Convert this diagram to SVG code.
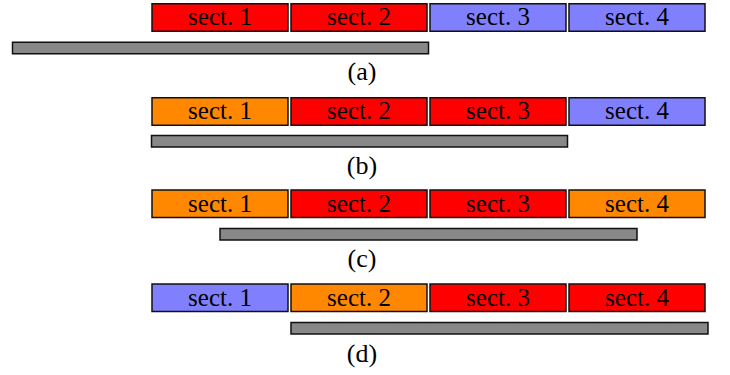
<svg xmlns="http://www.w3.org/2000/svg" width="730" height="375" viewBox="0 0 730 375" font-family="Liberation Serif, Times New Roman, serif">
<style>
.s{stroke:#111;stroke-width:1.5}
.r{fill:#ff0000}
.b{fill:#8080ff}
.o{fill:#ff8800}
.bar{fill:#888888;stroke:#111;stroke-width:1.5}
text{font-size:25px;fill:#000;text-anchor:middle}
.lbl{font-size:26px}
</style>
<rect width="730" height="375" fill="#fff"/>
<g id="row-a">
<g id="a1"><rect class="s r" x="152" y="3.75" width="136" height="27.5"/><text x="220" y="25">sect. 1</text></g>
<g id="a2"><rect class="s r" x="291" y="3.75" width="136" height="27.5"/><text x="359" y="25">sect. 2</text></g>
<g id="a3"><rect class="s b" x="430" y="3.75" width="136" height="27.5"/><text x="498" y="25">sect. 3</text></g>
<g id="a4"><rect class="s b" x="569" y="3.75" width="136" height="27.5"/><text x="637" y="25">sect. 4</text></g>
<g id="a-bar"><rect class="bar" x="12.5" y="42.25" width="416" height="11.5"/></g>
<text id="a-label" class="lbl" x="362" y="80">(a)</text>
</g>
<g id="row-b">
<g id="b1"><rect class="s o" x="152" y="97.75" width="136" height="27.5"/><text x="220" y="119">sect. 1</text></g>
<g id="b2"><rect class="s r" x="291" y="97.75" width="136" height="27.5"/><text x="359" y="119">sect. 2</text></g>
<g id="b3"><rect class="s r" x="430" y="97.75" width="136" height="27.5"/><text x="498" y="119">sect. 3</text></g>
<g id="b4"><rect class="s b" x="569" y="97.75" width="136" height="27.5"/><text x="637" y="119">sect. 4</text></g>
<g id="b-bar"><rect class="bar" x="151.5" y="135.5" width="416" height="11.5"/></g>
<text id="b-label" class="lbl" x="362" y="174">(b)</text>
</g>
<g id="row-c">
<g id="c1"><rect class="s o" x="152" y="190" width="136" height="27.5"/><text x="220" y="211.5">sect. 1</text></g>
<g id="c2"><rect class="s r" x="291" y="190" width="136" height="27.5"/><text x="359" y="211.5">sect. 2</text></g>
<g id="c3"><rect class="s r" x="430" y="190" width="136" height="27.5"/><text x="498" y="211.5">sect. 3</text></g>
<g id="c4"><rect class="s o" x="569" y="190" width="136" height="27.5"/><text x="637" y="211.5">sect. 4</text></g>
<g id="c-bar"><rect class="bar" x="220" y="228.5" width="417" height="11.5"/></g>
<text id="c-label" class="lbl" x="362" y="267">(c)</text>
</g>
<g id="row-d">
<g id="d1"><rect class="s b" x="152" y="284" width="136" height="27.5"/><text x="220" y="305.5">sect. 1</text></g>
<g id="d2"><rect class="s o" x="291" y="284" width="136" height="27.5"/><text x="359" y="305.5">sect. 2</text></g>
<g id="d3"><rect class="s r" x="430" y="284" width="136" height="27.5"/><text x="498" y="305.5">sect. 3</text></g>
<g id="d4"><rect class="s r" x="569" y="284" width="136" height="27.5"/><text x="637" y="305.5">sect. 4</text></g>
<g id="d-bar"><rect class="bar" x="291" y="322.5" width="417" height="11.5"/></g>
<text id="d-label" class="lbl" x="362" y="362">(d)</text>
</g>
<g id="connectors"/>
</svg>
